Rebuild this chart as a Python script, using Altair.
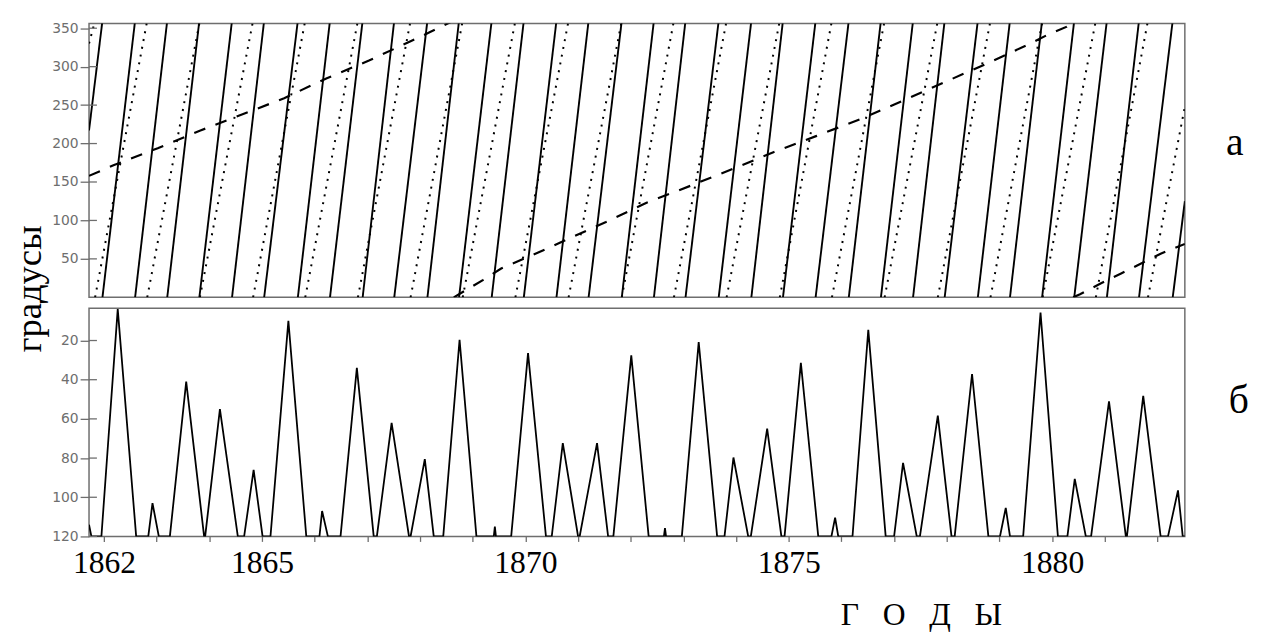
import altair as alt
import pandas as pd

# ---------------- data ----------------
X_MIN, X_MAX = 1861.715, 1882.52

# panel a: years where the solid (Venus) sawtooth wraps 360 -> 0
VENUS_WRAPS = [1861.97, 1862.59, 1863.20, 1863.81, 1864.43, 1865.04, 1865.68,
               1866.29, 1866.91, 1867.51, 1868.14, 1868.74, 1869.36, 1869.97,
               1870.59, 1871.20, 1871.83, 1872.44, 1873.04, 1873.67, 1874.29,
               1874.89, 1875.51, 1876.14, 1876.75, 1877.36, 1877.96, 1878.59,
               1879.20, 1879.81, 1880.42, 1881.04, 1881.65, 1882.29]
VENUS_EDGE_VALUES = [217, 125]          # value at left edge, value at right edge

# panel a: years where the dotted (Earth) sawtooth wraps 360 -> 0
EARTH_WRAPS = [1861.83, 1862.82, 1863.82, 1864.83, 1865.82, 1866.82, 1867.82,
               1868.81, 1869.81, 1870.82, 1871.83, 1872.82, 1873.82, 1874.83,
               1875.82, 1876.82, 1877.83, 1878.83, 1879.82, 1880.83, 1881.82]
EARTH_EDGE_VALUES = [330, 248]

# panel a: dashed (Jupiter) line, three runs
JUP_YEARS = [
    [1861.715, 1862.19, 1863.02, 1863.83, 1864.63, 1865.42, 1866.23, 1867.03,
     1867.82, 1868.19, 1868.64],
    [1868.64, 1869.20, 1869.54, 1870.33, 1871.16, 1871.53, 1872.30, 1873.13,
     1873.97, 1874.72, 1875.53, 1876.37, 1877.14, 1877.93, 1878.73, 1879.52,
     1879.89, 1880.28, 1880.40],
    [1880.40, 1880.53, 1880.92, 1881.31, 1881.69, 1882.06, 1882.52],
]
JUP_VALUES = [
    [158, 172, 194, 217, 238, 259, 285, 308, 333, 345, 360],
    [0, 22.6, 37.5, 61, 86.7, 98, 123, 145, 168, 189, 210, 232, 255, 279,
     303, 328, 340.6, 352, 360],
    [0, 4, 18, 31, 44, 56.7, 69.5],
]

# panel б: vertices of the peaked curve (clipped at 120)
B_YEARS = [1861.715, 1861.76,
           1861.95, 1862.26, 1862.61,
           1862.84, 1862.92, 1863.04,
           1863.25, 1863.56, 1863.90,
           1863.92, 1864.20, 1864.54,
           1864.66, 1864.84, 1865.01,
           1865.16, 1865.50, 1865.84,
           1866.09, 1866.14, 1866.25,
           1866.49, 1866.80, 1867.12,
           1867.18, 1867.46, 1867.79,
           1867.82, 1868.09, 1868.26,
           1868.44, 1868.75, 1869.07,
           1869.40, 1869.42, 1869.44,
           1869.73, 1870.05, 1870.39,
           1870.50, 1870.71, 1871.00,
           1871.03, 1871.36, 1871.57,
           1871.67, 1872.01, 1872.34,
           1872.63, 1872.65, 1872.67,
           1872.97, 1873.29, 1873.64,
           1873.78, 1873.95, 1874.23,
           1874.28, 1874.59, 1874.86,
           1874.92, 1875.23, 1875.56,
           1875.81, 1875.88, 1875.94,
           1876.21, 1876.51, 1876.84,
           1877.00, 1877.17, 1877.43,
           1877.49, 1877.83, 1878.09,
           1878.15, 1878.48, 1878.79,
           1879.01, 1879.12, 1879.20,
           1879.45, 1879.78, 1880.11,
           1880.29, 1880.43, 1880.64,
           1880.74, 1881.08, 1881.40,
           1881.42, 1881.73, 1882.06,
           1882.20, 1882.39, 1882.48,
           1882.52]
B_VALUES = [114, 120,
            120, 4, 120,
            120, 103, 120,
            120, 41, 120,
            120, 55, 120,
            120, 86, 120,
            120, 10, 120,
            120, 107, 120,
            120, 34, 120,
            120, 62, 120,
            120, 80.5, 120,
            120, 19.6, 120,
            120, 115, 120,
            120, 26.4, 120,
            120, 72.4, 120,
            120, 72.4, 120,
            120, 27.6, 120,
            120, 115.8, 120,
            120, 20.8, 120,
            120, 79.7, 120,
            120, 65, 120,
            120, 31.4, 120,
            120, 110.4, 120,
            120, 14.6, 120,
            120, 82.5, 120,
            120, 58.3, 120,
            120, 37.1, 120,
            120, 105.4, 120,
            120, 5.7, 120,
            120, 90.6, 120,
            120, 51.1, 120,
            120, 48.2, 120,
            120, 96.5, 120,
            120]

Y_TICKS_A = [50, 100, 150, 200, 250, 300, 350]
Y_TICKS_B = [20, 40, 60, 80, 100, 120]
YEAR_TICKS = list(range(1862, 1883))
LABEL_YEARS = [1862, 1865, 1870, 1875, 1880]
NBSP3 = "\u00a0\u00a0\u00a0"
X_TITLE = NBSP3.join(["Г", "О", "Д", "Ы"])

# ---------------- build tables ----------------
def sawtooth(wraps, edge_values):
    rows = []
    seg = 0
    rows.append({"year": X_MIN, "value": edge_values[0], "seg": seg})
    rows.append({"year": wraps[0], "value": 360, "seg": seg})
    for a, b in zip(wraps[:-1], wraps[1:]):
        seg += 1
        rows.append({"year": a, "value": 0, "seg": seg})
        rows.append({"year": b, "value": 360, "seg": seg})
    seg += 1
    rows.append({"year": wraps[-1], "value": 0, "seg": seg})
    rows.append({"year": X_MAX, "value": edge_values[1], "seg": seg})
    return pd.DataFrame(rows)

df_venus = sawtooth(VENUS_WRAPS, VENUS_EDGE_VALUES)
df_earth = sawtooth(EARTH_WRAPS, EARTH_EDGE_VALUES)
jrows = []
for k, (ys, vs) in enumerate(zip(JUP_YEARS, JUP_VALUES)):
    for yr, v in zip(ys, vs):
        jrows.append({"year": yr, "value": v, "seg": k})
df_jup = pd.DataFrame(jrows)
df_b = pd.DataFrame({"year": B_YEARS, "value": B_VALUES, "order": range(len(B_YEARS))})

GRAY = "#6e6e6e"
SERIF = "Liberation Serif"
W, HA, HB = 1109, 277, 231

xscale = alt.Scale(domain=[X_MIN, X_MAX], nice=False, zero=False)

# ---------------- panel a ----------------
ya = alt.Y("value:Q",
           scale=alt.Scale(domain=[0, 356], nice=False),
           axis=alt.Axis(values=Y_TICKS_A, title="градусы", titleFont=SERIF,
                         titleFontSize=37, titleFontWeight="normal", titleColor="black",
                         titleAngle=270, titleX=-49, titleY=268,
                         titleBaseline="alphabetic", titleAlign="center",
                         labelFont="DejaVu Sans", labelFontSize=14, labelColor=GRAY,
                         tickColor=GRAY, tickSize=9, tickWidth=1.3, labelPadding=2,
                         domain=False, grid=False))
xa = alt.X("year:Q", scale=xscale, axis=None)

venus = alt.Chart(df_venus).mark_line(color="black", strokeWidth=1.9, clip=True).encode(
    x=xa, y=ya, detail="seg:N")
earth = alt.Chart(df_earth).mark_line(color="black", strokeWidth=2, strokeDash=[2, 6],
                                      clip=True).encode(x=xa, y=ya, detail="seg:N")
jup = alt.Chart(df_jup).mark_line(color="black", strokeWidth=2.2, strokeDash=[12, 11],
                                  clip=True).encode(x=xa, y=ya, detail="seg:N")
ticks_a = alt.Chart(pd.DataFrame({"value": Y_TICKS_A})).mark_rule(
    color=GRAY, strokeWidth=1.3).encode(y=ya, x=alt.value(0), x2=alt.value(8))

top = alt.layer(venus, earth, jup, ticks_a).properties(
    width=W, height=HA,
    title=alt.TitleParams("а", orient="right", angle=0, anchor="middle", align="left",
                          baseline="alphabetic", font=SERIF, fontSize=40,
                          fontWeight="normal", color="black", offset=24, dy=-6))

# ---------------- panel б ----------------
label_expr = "indexof(%s, datum.value) >= 0 ? toString(datum.value) : ''" % str(LABEL_YEARS)
xb = alt.X("year:Q", scale=xscale,
           axis=alt.Axis(values=YEAR_TICKS, labelExpr=label_expr, labelFont=SERIF,
                         labelFontSize=32, labelColor="black", labelPadding=7,
                         labelFlush=False, labelOverlap=False,
                         tickColor=GRAY, tickSize=5, tickWidth=1.3,
                         domain=False, grid=False,
                         title=X_TITLE, titleFont=SERIF, titleFontSize=32,
                         titleFontWeight="normal", titleColor="black",
                         titleX=842, titleY=89, titleBaseline="alphabetic",
                         titleAlign="center"))
yb = alt.Y("value:Q",
           scale=alt.Scale(domain=[3.5, 120], nice=False, zero=False, reverse=True),
           axis=alt.Axis(values=Y_TICKS_B, title=None,
                         labelFont="DejaVu Sans", labelFontSize=14, labelColor=GRAY,
                         tickColor=GRAY, tickSize=9, tickWidth=1.3, labelPadding=2,
                         domain=False, grid=False))

curve = alt.Chart(df_b).mark_line(color="black", strokeWidth=1.8, clip=True).encode(
    x=xb, y=yb, order="order:Q")
ticks_b = alt.Chart(pd.DataFrame({"value": Y_TICKS_B})).mark_rule(
    color=GRAY, strokeWidth=1.3).encode(y=yb, x=alt.value(0), x2=alt.value(8))

bottom = alt.layer(curve, ticks_b).properties(
    width=W, height=HB,
    title=alt.TitleParams("б", orient="right", angle=0, anchor="middle", align="left",
                          baseline="alphabetic", font=SERIF, fontSize=40,
                          fontWeight="normal", color="black", offset=24, dy=-9))

chart = alt.vconcat(top, bottom, spacing=11, bounds="flush").properties(
    padding={"left": 2, "top": 8, "right": 5, "bottom": 5},
    background="white",
).configure_view(stroke=GRAY, strokeWidth=1.5)

chart.save("out.html", embed_options={"renderer": "svg", "actions": False})
